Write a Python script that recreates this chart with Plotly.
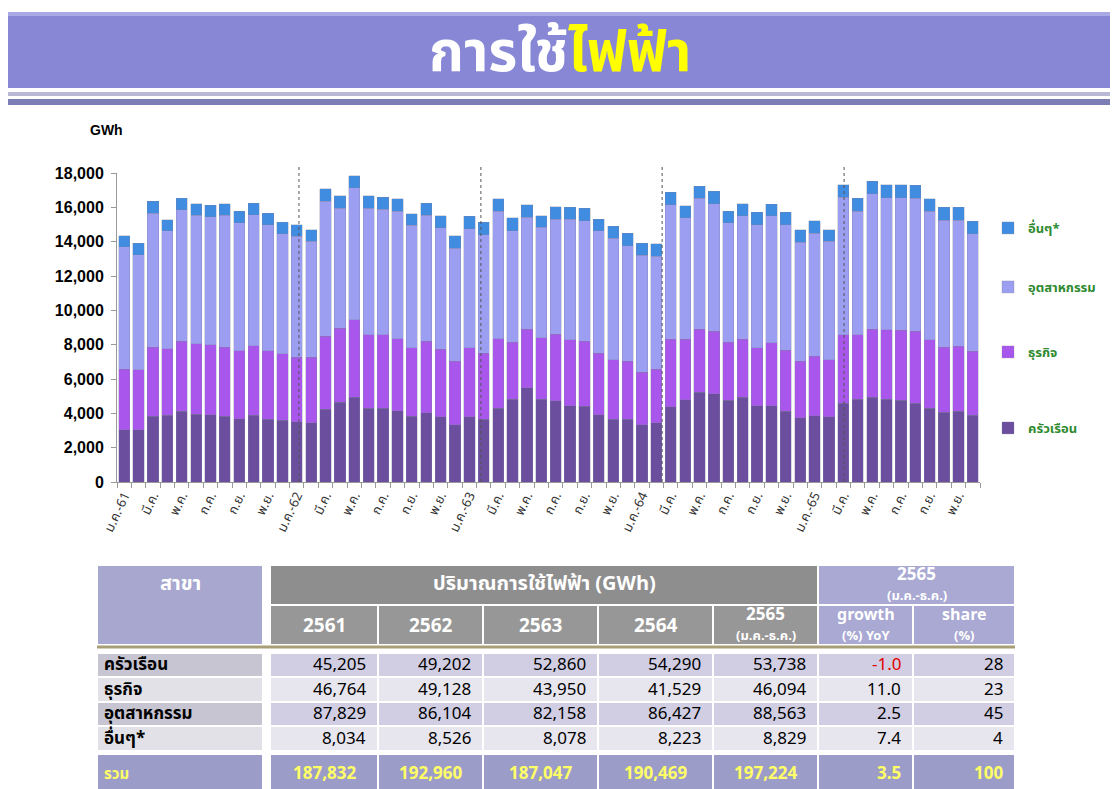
import plotly.graph_objects as go

# ---------------- data ----------------
months = ["ม.ค.", "ก.พ.", "มี.ค.", "เม.ย.", "พ.ค.", "มิ.ย.", "ก.ค.", "ส.ค.", "ก.ย.", "ต.ค.", "พ.ย.", "ธ.ค."]
years_short = ["61", "62", "63", "64", "65"]

household = [3050, 3050, 3830, 3900, 4120, 3960, 3920, 3830, 3690, 3880, 3670, 3590,
             3500, 3440, 4250, 4640, 4950, 4310, 4310, 4160, 3830, 4020, 3800, 3340,
             3790, 3670, 4310, 4830, 5480, 4830, 4740, 4450, 4410, 3920, 3670, 3670,
             3340, 3440, 4370, 4800, 5220, 5130, 4760, 4930, 4450, 4450, 4120, 3730,
             3860, 3790, 4600, 4830, 4930, 4830, 4760, 4600, 4310, 4060, 4120, 3880]
business = [3530, 3490, 4010, 3850, 4070, 4080, 4080, 4010, 3960, 4060, 3980, 3870,
            3780, 3820, 4240, 4330, 4510, 4270, 4270, 4190, 3980, 4170, 3930, 3690,
            4020, 3840, 4040, 3310, 3430, 3560, 3880, 3840, 3780, 3590, 3460, 3360,
            3050, 3140, 3960, 3530, 3690, 3650, 3380, 3400, 3360, 3650, 3550, 3300,
            3460, 3340, 3980, 3750, 3980, 4040, 4070, 4180, 3980, 3800, 3780, 3730]
industry = [7110, 6700, 7830, 6890, 7670, 7490, 7440, 7690, 7440, 7630, 7340, 6990,
            7030, 6760, 7860, 6990, 7670, 7380, 7320, 7420, 7140, 7340, 7080, 6600,
            6930, 6900, 7420, 6500, 6510, 6440, 6700, 7030, 7030, 7130, 7080, 6740,
            6810, 6570, 7830, 7050, 7630, 7430, 6950, 7180, 7180, 7410, 7320, 6950,
            7180, 6890, 8020, 7190, 7870, 7700, 7740, 7750, 7480, 7400, 7360, 6840]
others = [660, 680, 680, 640, 680, 680, 680, 680, 680, 680, 680, 680,
          680, 680, 720, 720, 710, 720, 700, 720, 680, 720, 700, 720,
          740, 720, 730, 740, 740, 680, 700, 680, 740, 680, 680, 730,
          720, 730, 710, 720, 680, 720, 680, 700, 720, 680, 720, 720,
          720, 680, 720, 770, 730, 750, 750, 750, 720, 740, 740, 730]

series_names = ["ครัวเรือน", "ธุรกิจ", "อุตสาหกรรม", "อื่นๆ*"]
series_colors = ["#6C4E9F", "#A956EC", "#9C9EF1", "#3F8CE0"]

# year divider positions (in month-index units, as drawn in the source)
year_dividers = [12.15, 24.8, 37.4, 50.05]

# table data
table_sectors = ["ครัวเรือน", "ธุรกิจ", "อุตสาหกรรม", "อื่นๆ*"]
table_years = ["2561", "2562", "2563", "2564", "2565"]
use_2561 = [45205, 46764, 87829, 8034]
use_2562 = [49202, 49128, 86104, 8526]
use_2563 = [52860, 43950, 82158, 8078]
use_2564 = [54290, 41529, 86427, 8223]
use_2565 = [53738, 46094, 88563, 8829]
use_totals = [187832, 192960, 187047, 190469, 197224]
growth_2565 = [-1.0, 11.0, 2.5, 7.4]
growth_total = 3.5
share_2565 = [28, 23, 45, 4]
share_total = 100

# ---------------- geometry helpers (screen px -> paper) ----------------
OFF = 8                      # page body margin
W, H = 1118 - OFF, 789 - OFF
def fx(p):
    return (p - OFF) / W
def fy(p):
    return 1 - (p - OFF) / H

FONT = "Tahoma, 'Noto Sans Thai', 'Noto Sans', 'DejaVu Sans', sans-serif"
fig = go.Figure()

n = len(household)
xs = list(range(n))
legend_ids = ["legend4", "legend3", "legend2", "legend"]
legend_centers = [428, 352, 287, 228]
for name, vals, col, lid in zip(series_names, [household, business, industry, others], series_colors, legend_ids):
    fig.add_trace(go.Bar(
        x=xs, y=vals, name=name, legend=lid,
        marker=dict(color=col, line=dict(color="rgba(130,130,160,0.5)", width=0.6)),
        hovertemplate="%{y:,}<extra>" + name + "</extra>",
    ))

tickvals, ticktext = [], []
for i in range(0, n, 2):
    m = months[i % 12]
    if i % 12 == 0:
        m = m + "-" + years_short[i // 12]
    tickvals.append(i)
    ticktext.append(m)

legend_font = dict(size=13, color="#2E8A2E", family=FONT, weight="bold")
legend_layouts = {}
for lid, cy in zip(legend_ids, legend_centers):
    legend_layouts[lid] = dict(x=fx(988), y=fy(cy), xanchor="left", yanchor="middle",
                               font=legend_font, bgcolor="rgba(0,0,0,0)")

fig.update_layout(
    width=W, height=H, autosize=False,
    margin=dict(l=0, r=0, t=0, b=0, pad=0, autoexpand=False),
    paper_bgcolor="white", plot_bgcolor="white",
    barmode="stack", bargap=0.22,
    font=dict(family=FONT, color="#000"),
    showlegend=True,
    xaxis=dict(
        domain=[fx(117), fx(980)], range=[-0.5, n - 0.5],
        tickmode="array", tickvals=tickvals, ticktext=ticktext,
        tickangle=-65, tickfont=dict(size=13, color="#333"),
        ticks="", showline=True, linecolor="#999", linewidth=1,
        showgrid=False, zeroline=False, automargin=False,
        minor=dict(ticks="outside", tick0=-0.5, dtick=1, ticklen=5, tickcolor="#999"),
    ),
    yaxis=dict(
        domain=[fy(482), fy(173)], range=[0, 18000],
        tickmode="linear", tick0=0, dtick=2000, tickformat=",d",
        tickfont=dict(size=16, color="#000", family="Arial, 'Liberation Sans', sans-serif", weight="bold"),
        ticks="outside", ticklen=5, tickcolor="#999", ticklabelstandoff=4,
        showline=True, linecolor="#999", linewidth=1,
        showgrid=False, zeroline=False, automargin=False,
    ),
    xaxis2=dict(domain=[0, 1], range=[OFF, W + OFF], visible=False, fixedrange=True, anchor="y2"),
    yaxis2=dict(domain=[0, fy(560)], range=[H + OFF, 560], visible=False, fixedrange=True, anchor="x2"),
    **legend_layouts,
)

shapes = []
annotations = []

# ---------------- banner ----------------
def band(y0, y1, color):
    shapes.append(dict(type="rect", xref="paper", yref="paper", x0=fx(5), x1=1, y0=fy(y1), y1=fy(y0),
                       fillcolor=color, line=dict(width=0), layer="below"))
band(12, 88, "#8787D6")
band(12, 16, "#A9A9E6")
band(92, 96, "#B9B9D6")
band(99, 105, "#7D7DB5")
annotations.append(dict(
    xref="paper", yref="paper", x=fx(560), y=fy(54), xanchor="center", yanchor="middle", showarrow=False,
    text="<b><span style='color:white'>การใช้</span><span style='color:#FFFF00'>ไฟฟ้า</span></b>",
    font=dict(size=56, family=FONT, color="white"),
))

# ---------------- chart extras ----------------
annotations.append(dict(xref="paper", yref="paper", x=fx(88), y=fy(130), xanchor="left", yanchor="middle",
                        showarrow=False, text="<b>GWh</b>",
                        font=dict(size=14, family="Arial, 'Liberation Sans', sans-serif", color="#000")))
for xv in year_dividers:
    shapes.append(dict(type="line", xref="x", yref="paper", x0=xv, x1=xv, y0=fy(482), y1=fy(165),
                       line=dict(color="#555", width=1, dash="dot"), layer="above"))

# ---------------- table (x2/y2 in screen px) ----------------
label_x0, label_x1 = 97, 263
col_edges = [270, 378, 483, 598, 713, 818, 913, 1015]
hdr_top, hdr_mid, hdr_bot = 565, 605, 645
row_edges = [653, 677, 702, 726, 751]
total_row = (754, 800)

GREY1, GREY2 = "#8E8E8E", "#979797"
LAV = "#A9A9D3"
WHITE_LINE = dict(color="white", width=2)

def rect(x0, x1, y0, y1, fill, line=WHITE_LINE):
    shapes.append(dict(type="rect", xref="x2", yref="y2", x0=x0, x1=x1, y0=y0, y1=y1,
                       fillcolor=fill, line=line, layer="below"))

def txt(x, y, s, size=15, color="#000", anchor="center", bold=False):
    annotations.append(dict(xref="x2", yref="y2", x=x, y=y, xanchor=anchor, yanchor="middle",
                            showarrow=False, text=("<b>%s</b>" % s) if bold else s,
                            font=dict(size=size, color=color, family=FONT)))

# header
rect(label_x0, label_x1, hdr_top, hdr_bot, "#A7A7CF")
txt((label_x0 + label_x1) / 2, 584, "สาขา", size=20, color="white", bold=True)
rect(col_edges[0], col_edges[5], hdr_top, hdr_mid, GREY1)
txt((col_edges[0] + col_edges[5]) / 2, 584, "ปริมาณการใช้ไฟฟ้า (GWh)", size=20, color="white", bold=True)
rect(col_edges[5], col_edges[7], hdr_top, hdr_mid, LAV)
txt((col_edges[5] + col_edges[7]) / 2, 575, "2565", size=17, color="white", bold=True)
txt((col_edges[5] + col_edges[7]) / 2, 596, "(ม.ค.-ธ.ค.)", size=13, color="white", bold=True)

hdr2_labels = table_years[:4] + [None, "growth<br>(%) YoY", "share<br>(%)"]
for j in range(7):
    x0, x1 = col_edges[j], col_edges[j + 1]
    fill = GREY2 if j < 5 else LAV
    rect(x0, x1, hdr_mid, hdr_bot, fill)
    cx = (x0 + x1) / 2
    if j < 4:
        txt(cx, 626, table_years[j], size=19, color="white", bold=True)
    elif j == 4:
        txt(cx, 615, table_years[4], size=17, color="white", bold=True)
        txt(cx, 636, "(ม.ค.-ธ.ค.)", size=13, color="white", bold=True)
    else:
        lines = hdr2_labels[j].split("<br>")
        txt(cx, 615, lines[0], size=16, color="white", bold=True)
        txt(cx, 636, lines[1], size=13, color="white", bold=True)

shapes.append(dict(type="line", xref="x2", yref="y2", x0=label_x0, x1=col_edges[-1], y0=hdr_bot + 2, y1=hdr_bot + 2,
                   line=dict(color="#A89F78", width=3), layer="below"))

# body
cols = [use_2561, use_2562, use_2563, use_2564, use_2565]
for i, sector in enumerate(table_sectors):
    y0, y1 = row_edges[i], row_edges[i + 1]
    cy = (y0 + y1) / 2
    dark = (i % 2 == 0)
    rect(label_x0, label_x1, y0, y1, "#C7C5D1" if dark else "#E2E1E7")
    txt(label_x0 + 5, cy, sector, size=17, anchor="left", bold=True)
    for j in range(7):
        x0, x1 = col_edges[j], col_edges[j + 1]
        rect(x0, x1, y0, y1, "#D1CEE3" if dark else "#E7E5EE")
        if j < 5:
            s = f"{cols[j][i]:,}"
            color = "#000"
        elif j == 5:
            s = f"{growth_2565[i]:.1f}"
            color = "#E00000" if growth_2565[i] < 0 else "#000"
        else:
            s = f"{share_2565[i]}"
            color = "#000"
        txt(x1 - 10, cy, s, size=17, color=color, anchor="right")

# total row
ty0, ty1 = total_row
tcy = 774
rect(label_x0, label_x1, ty0, ty1, "#9C9CC8")
txt(label_x0 + 5, tcy, "รวม", size=15, color="#FFFF66", anchor="left", bold=True)
for j in range(7):
    x0, x1 = col_edges[j], col_edges[j + 1]
    rect(x0, x1, ty0, ty1, "#9C9CC8")
    if j < 5:
        s = f"{use_totals[j]:,}"
    elif j == 5:
        s = f"{growth_total:.1f}"
    else:
        s = f"{share_total}"
    txt((x0 + x1) / 2 if j < 5 else x1 - 10, tcy, s, size=17, color="#FFFF66",
        anchor="center" if j < 5 else "right", bold=True)

fig.update_layout(shapes=shapes, annotations=annotations)
fig.write_html("out.html")
